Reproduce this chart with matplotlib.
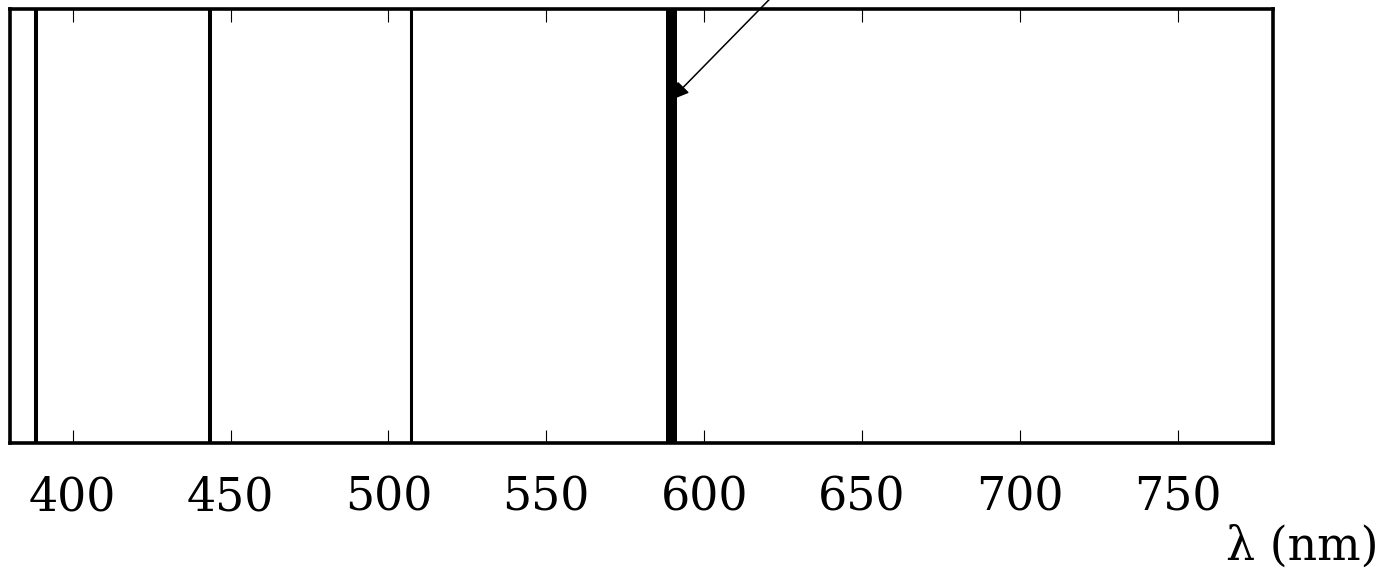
import matplotlib
matplotlib.use("Agg")
import matplotlib.pyplot as plt

# Data
line_wavelengths = [388.3, 443.4, 507.1, 589.4]   # nm
line_widths_pt = [2.9, 2.9, 2.2, 7.9]
tick_values = [400, 450, 500, 550, 600, 650, 700, 750]
tick_labels = ["400", "450", "500", "550", "600", "650", "700", "750"]
x_range = (380, 780)
arrow_target = (589.4, 0.79)
arrow_source = (626.7, 1.067)

W, H = 1399, 570
fig = plt.figure(figsize=(W / 100, H / 100), dpi=100)
ax = fig.add_axes([9.5 / W, (H - 443) / H, (1272.5 - 9.5) / W, (443 - 9) / H])

font = "DejaVu Serif"

for wl, lw in zip(line_wavelengths, line_widths_pt):
    ax.axvline(wl, color="black", lw=lw, zorder=3)

ax.set_xlim(*x_range)
ax.set_ylim(0, 1)
ax.set_yticks([])
ax.set_xticks(tick_values)
ax.set_xticklabels(tick_labels, fontfamily=font, fontsize=33)
ax.tick_params(axis="x", direction="in", top=True, bottom=True, length=9.5,
               width=0.8, pad=23, labelsize=33)
for sp in ax.spines.values():
    sp.set_linewidth(2.6)

ax.annotate("", xy=arrow_target, xytext=arrow_source,
            xycoords="data", textcoords="data",
            arrowprops=dict(arrowstyle="-|>,head_length=0.8,head_width=0.35",
                            color="black", lw=1.1, mutation_scale=14,
                            shrinkA=0, shrinkB=0),
            annotation_clip=False, zorder=2)

fig.text(1378 / W, 10 / H, "λ (nm)", ha="right", va="baseline",
         fontfamily=font, fontsize=33)

fig.savefig("out.png", dpi=100)
